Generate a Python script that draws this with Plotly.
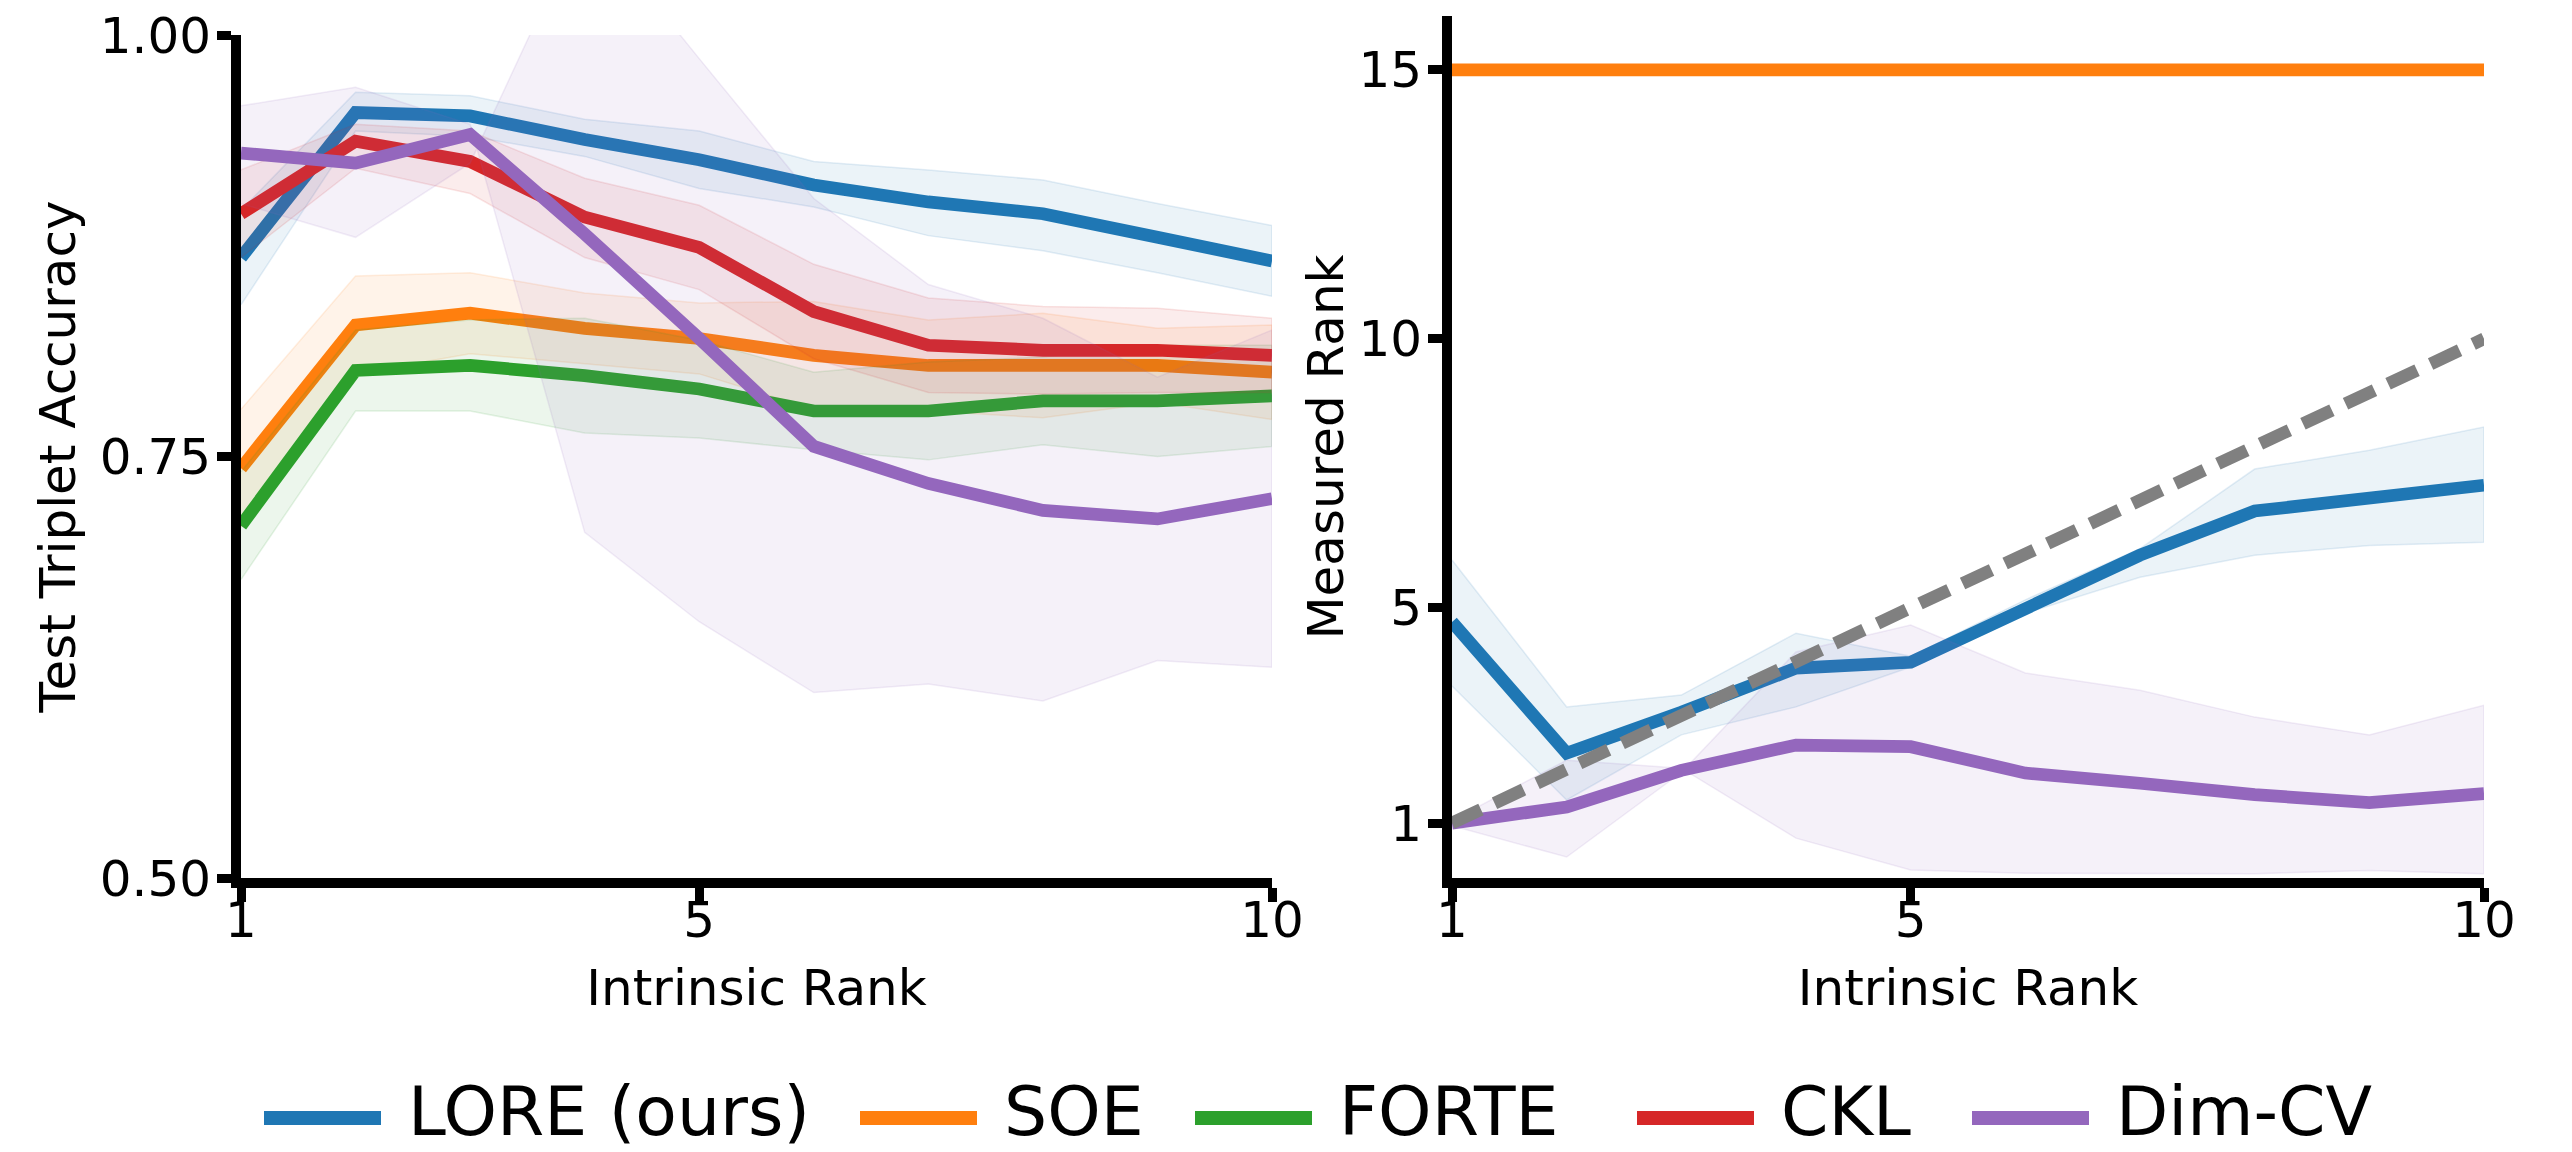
import plotly.graph_objects as go

# ---------------- data ----------------
ranks = [1, 2, 3, 4, 5, 6, 7, 8, 9, 10]
x_ticks = [1, 5, 10]
acc_ticks = [0.50, 0.75, 1.00]
acc_tick_labels = ["0.50", "0.75", "1.00"]
rank_ticks = [1, 5, 10, 15]

methods = ["LORE (ours)", "SOE", "FORTE", "CKL", "Dim-CV"]
colors = ["#1f77b4", "#ff7f0e", "#2ca02c", "#d62728", "#9467bd"]

# Left panel: test triplet accuracy (mean, band edges)
lore_acc = [0.868, 0.954, 0.952, 0.938, 0.926, 0.911, 0.901, 0.894, 0.880, 0.866]
lore_acc_hi = [0.896, 0.966, 0.964, 0.950, 0.943, 0.925, 0.920, 0.914, 0.900, 0.887]
lore_acc_lo = [0.840, 0.943, 0.940, 0.928, 0.909, 0.898, 0.881, 0.872, 0.859, 0.845]

soe_acc = [0.743, 0.828, 0.835, 0.826, 0.820, 0.810, 0.804, 0.804, 0.804, 0.800]
soe_acc_hi = [0.778, 0.857, 0.859, 0.847, 0.841, 0.842, 0.831, 0.835, 0.826, 0.828]
soe_acc_lo = [0.708, 0.799, 0.811, 0.805, 0.799, 0.778, 0.777, 0.773, 0.782, 0.772]

forte_acc = [0.709, 0.801, 0.804, 0.798, 0.790, 0.777, 0.777, 0.783, 0.783, 0.786]
forte_acc_hi = [0.741, 0.825, 0.831, 0.832, 0.819, 0.800, 0.806, 0.809, 0.816, 0.816]
forte_acc_lo = [0.677, 0.777, 0.777, 0.764, 0.761, 0.754, 0.748, 0.757, 0.750, 0.756]

ckl_acc = [0.894, 0.937, 0.925, 0.892, 0.874, 0.836, 0.816, 0.813, 0.813, 0.810]
ckl_acc_hi = [0.920, 0.947, 0.943, 0.915, 0.899, 0.864, 0.844, 0.839, 0.838, 0.832]
ckl_acc_lo = [0.868, 0.921, 0.906, 0.868, 0.849, 0.808, 0.788, 0.787, 0.788, 0.788]

dimcv_acc = [0.930, 0.924, 0.941, 0.882, 0.820, 0.756, 0.734, 0.718, 0.713, 0.725]
dimcv_acc_a = [0.900, 0.880, 0.924, 1.070, 0.986, 0.903, 0.852, 0.832, 0.797, 0.825]
dimcv_acc_b = [0.958, 0.969, 0.947, 0.705, 0.652, 0.610, 0.615, 0.605, 0.629, 0.625]

# Right panel: measured rank
lore_rank = [4.74, 2.30, 3.06, 3.88, 3.99, 4.98, 5.98, 6.80, 7.06, 7.28]
lore_rank_hi = [5.89, 3.16, 3.38, 4.53, 4.10, 5.15, 6.10, 7.58, 7.93, 8.36]
lore_rank_lo = [3.55, 1.43, 2.64, 3.16, 3.90, 4.90, 5.57, 5.98, 6.16, 6.22]

soe_rank = [15, 15, 15, 15, 15, 15, 15, 15, 15, 15]

dimcv_rank = [1.00, 1.30, 1.98, 2.45, 2.42, 1.93, 1.74, 1.53, 1.38, 1.55]
dimcv_rank_a = [0.95, 0.37, 1.94, 4.18, 4.68, 3.79, 3.47, 2.97, 2.64, 3.19]
dimcv_rank_b = [1.05, 2.17, 2.02, 0.72, 0.13, 0.07, 0.06, 0.06, 0.12, 0.06]

ideal_rank = [1, 2, 3, 4, 5, 6, 7, 8, 9, 10]

# ---------------- styling ----------------
FONT = "DejaVu Sans"
LW = 12.7
W, H = 2572, 1152


def rgba(hex_color, a):
    h = hex_color.lstrip("#")
    r, g, b = int(h[0:2], 16), int(h[2:4], 16), int(h[4:6], 16)
    return f"rgba({r},{g},{b},{a})"


fig = go.Figure()


def add_band(xa, ya, upper, lower, color):
    fig.add_trace(go.Scatter(
        x=ranks + ranks[::-1], y=upper + lower[::-1],
        xaxis=xa, yaxis=ya, mode="lines", fill="toself",
        fillcolor=rgba(color, 0.09), line=dict(color=rgba(color, 0.12), width=1.5),
        hoverinfo="skip", showlegend=False))


def add_line(xa, ya, vals, color, name, dash="solid"):
    fig.add_trace(go.Scatter(
        x=ranks, y=vals, xaxis=xa, yaxis=ya, mode="lines", name=name,
        line=dict(color=color, width=LW, dash=dash), showlegend=False))


# Left panel
left = [
    (lore_acc, lore_acc_hi, lore_acc_lo),
    (soe_acc, soe_acc_hi, soe_acc_lo),
    (forte_acc, forte_acc_hi, forte_acc_lo),
    (ckl_acc, ckl_acc_hi, ckl_acc_lo),
    (dimcv_acc, dimcv_acc_a, dimcv_acc_b),
]
for (m, hi, lo), c, n in zip(left, colors, methods):
    add_band("x", "y", hi, lo, c)
    add_line("x", "y", m, c, n)

# Right panel
add_line("x2", "y2", soe_rank, colors[1], methods[1])
add_band("x2", "y2", lore_rank_hi, lore_rank_lo, colors[0])
add_line("x2", "y2", lore_rank, colors[0], methods[0])
add_band("x2", "y2", dimcv_rank_a, dimcv_rank_b, colors[4])
add_line("x2", "y2", dimcv_rank, colors[4], methods[4])
add_line("x2", "y2", ideal_rank, "#808080", "Ideal", dash="32px,15px")

TICK_FS = 50
TITLE_FS = 50

axis_common = dict(
    showline=True, linewidth=10, linecolor="black", mirror=False,
    ticks="outside", ticklen=14, tickwidth=9, tickcolor="black",
    showgrid=False, zeroline=False, automargin=False,
    tickfont=dict(family=FONT, size=TICK_FS, color="black"),
)

fig.update_layout(
    width=W, height=H, autosize=False,
    margin=dict(l=0, r=0, t=0, b=0, pad=0),
    paper_bgcolor="white", plot_bgcolor="white",
    font=dict(family=FONT, color="black"),
    xaxis=dict(domain=[241 / W, 1272 / W], range=[1, 10], tickvals=x_ticks,
               anchor="y", ticklabelstandoff=-25,
               title=dict(text="Intrinsic Rank", font=dict(family=FONT, size=TITLE_FS), standoff=26),
               **axis_common),
    yaxis=dict(domain=[1 - 878 / H, 1 - 35 / H], range=[0.5, 1.0], tickvals=acc_ticks,
               ticktext=acc_tick_labels, anchor="x", ticklabelstandoff=-4,
               title=dict(text="Test Triplet Accuracy", font=dict(family=FONT, size=TITLE_FS), standoff=12),
               **axis_common),
    xaxis2=dict(domain=[1452 / W, 2484 / W], range=[1, 10], tickvals=x_ticks,
                anchor="y2", ticklabelstandoff=-25,
                title=dict(text="Intrinsic Rank", font=dict(family=FONT, size=TITLE_FS), standoff=26),
                **axis_common),
    yaxis2=dict(domain=[1 - 878 / H, 1 - 16 / H], range=[-0.02, 16.0], tickvals=rank_ticks,
                anchor="x2", ticklabelstandoff=-4,
                title=dict(text="Measured Rank", font=dict(family=FONT, size=TITLE_FS), standoff=3),
                **axis_common),
)

# Legend row (drawn as handles + labels, matplotlib style)
legend_handle_x = [264, 860, 1195, 1637, 1972]
handle_len = 117
text_gap = 26
legend_handle_y = 1 - 1118 / H
shapes = []
annotations = []
for hx, c, n in zip(legend_handle_x, colors, methods):
    shapes.append(dict(type="line", xref="paper", yref="paper",
                       x0=hx / W, x1=(hx + handle_len) / W,
                       y0=legend_handle_y, y1=legend_handle_y,
                       line=dict(color=c, width=14)))
    annotations.append(dict(xref="paper", yref="paper", x=(hx + handle_len + text_gap) / W,
                            y=0, xanchor="left", yanchor="bottom", showarrow=False,
                            borderpad=0, text=n,
                            font=dict(family=FONT, size=68, color="black")))
fig.update_layout(shapes=shapes, annotations=annotations)

fig.write_html("out.html", config={"displayModeBar": False},
               post_script="document.body.style.margin='0';")
